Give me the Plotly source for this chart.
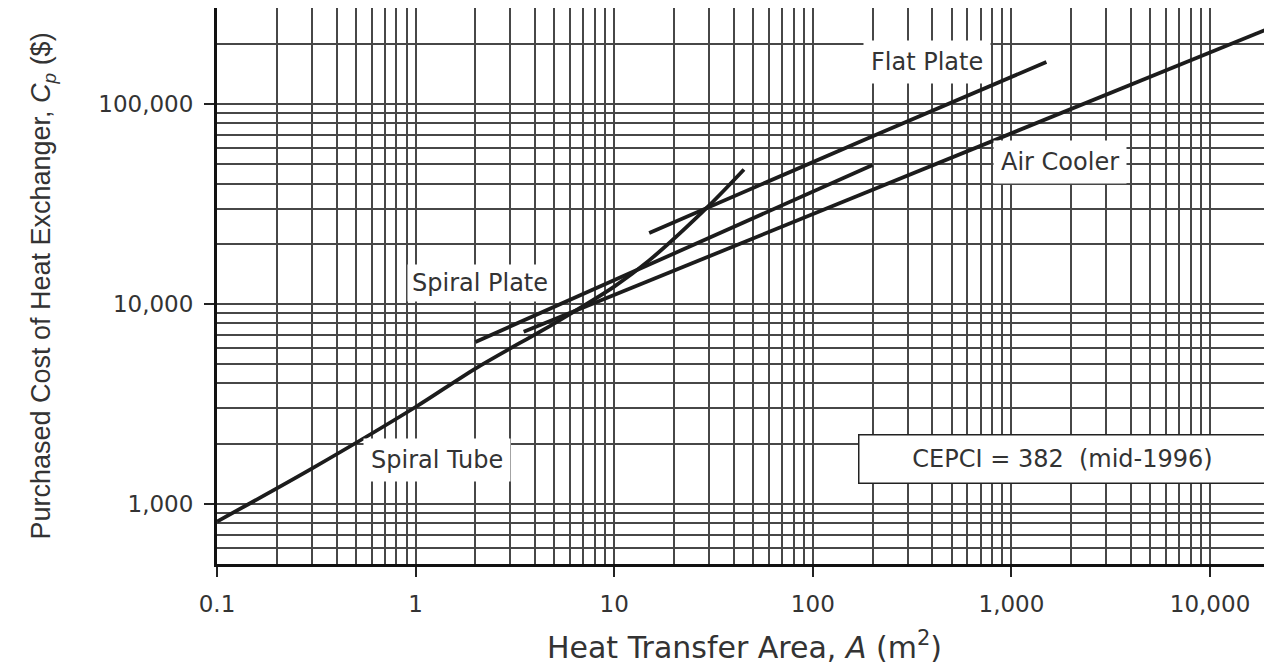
import plotly.graph_objects as go

# ---- data (area in m^2, purchased cost in $) ----
spiral_tube_area = [0.1, 0.3, 1, 2, 5, 10, 15, 30, 45]
spiral_tube_cost = [815, 1500, 3050, 4750, 8000, 12200, 16500, 31000, 47000]

spiral_plate_area = [2, 20, 200]
spiral_plate_cost = [6450, 17800, 49500]

air_cooler_area = [3.5, 100, 1000, 20500]
air_cooler_cost = [7250, 28100, 71500, 242000]

flat_plate_area = [15, 200, 1500]
flat_plate_cost = [22600, 69000, 162000]

x_tick_vals = [0.1, 1, 10, 100, 1000, 10000]
x_tick_text = ["0.1", "1", "10", "100", "1,000", "10,000"]
y_tick_vals = [1000, 10000, 100000]
y_tick_text = ["1,000", "10,000", "100,000"]

LINE = "#1c1c1c"
GRID = "#474747"
TXT = "#333333"
FONT = "DejaVu Sans"

fig = go.Figure()
series = [
    ("Spiral Tube", spiral_tube_area, spiral_tube_cost, "spline"),
    ("Spiral Plate", spiral_plate_area, spiral_plate_cost, "linear"),
    ("Air Cooler", air_cooler_area, air_cooler_cost, "linear"),
    ("Flat Plate", flat_plate_area, flat_plate_cost, "linear"),
]
for name, xs, ys, shape in series:
    fig.add_trace(go.Scatter(
        x=xs, y=ys, mode="lines", name=name,
        line=dict(color=LINE, width=3.8, shape=shape, smoothing=0.8),
        showlegend=False,
    ))

label_font = dict(family=FONT, size=24, color=TXT)
# annotation positions on log axes are given in log10 units
labels = [
    ("Flat Plate", 2.575, 5.21, 7),
    ("Air Cooler", 3.245, 4.71, 7),
    ("Spiral Plate", 0.324, 4.105, 4),
    ("Spiral Tube", 0.108, 3.22, 7),
]
for text, xl, yl, pad in labels:
    fig.add_annotation(x=xl, y=yl, xref="x", yref="y", text=text,
                       showarrow=False, font=label_font,
                       bgcolor="white", borderpad=pad)

fig.add_annotation(x=3.255, y=3.225, xref="x", yref="y",
                   text="CEPCI = 382&nbsp;&nbsp;(mid-1996)",
                   showarrow=False, font=dict(family=FONT, size=24, color=TXT),
                   bgcolor="white", bordercolor="#222222", borderwidth=1.5,
                   width=404, height=45)

fig.update_xaxes(
    type="log", range=[-1, 4.312],
    tickmode="array", tickvals=x_tick_vals, ticktext=x_tick_text,
    ticks="outside", ticklen=10, tickwidth=1.5, tickcolor="#222",
    ticklabelstandoff=7,
    tickfont=dict(family=FONT, size=23, color=TXT),
    showgrid=True, gridcolor=GRID, gridwidth=1.6,
    minor=dict(dtick="D1", showgrid=True, gridcolor=GRID, gridwidth=1.6, ticks=""),
    showline=True, linecolor="#111", linewidth=3, mirror=True,
    zeroline=False,
    title=dict(text="Heat Transfer Area, <i>A</i> (m<sup>2</sup>)",
               font=dict(family=FONT, size=30, color=TXT), standoff=22),
)
fig.update_yaxes(
    type="log", range=[2.699, 5.48],
    tickmode="array", tickvals=y_tick_vals, ticktext=y_tick_text,
    ticks="outside", ticklen=10, tickwidth=1.5, tickcolor="#222",
    ticklabelstandoff=6,
    tickfont=dict(family=FONT, size=23, color=TXT),
    showgrid=True, gridcolor=GRID, gridwidth=1.6,
    minor=dict(dtick="D1", showgrid=True, gridcolor=GRID, gridwidth=1.6, ticks=""),
    showline=True, linecolor="#111", linewidth=3, mirror=True,
    zeroline=False,
    title=dict(text="Purchased Cost of Heat Exchanger, <i>C<sub>p</sub></i> ($)",
               font=dict(family="Liberation Sans", size=27, color=TXT), standoff=40),
)

fig.update_layout(
    width=1264, height=663,
    margin=dict(l=209, r=0, t=0, b=107, autoexpand=False),
    plot_bgcolor="white", paper_bgcolor="white",
)

fig.write_html("out.html")
